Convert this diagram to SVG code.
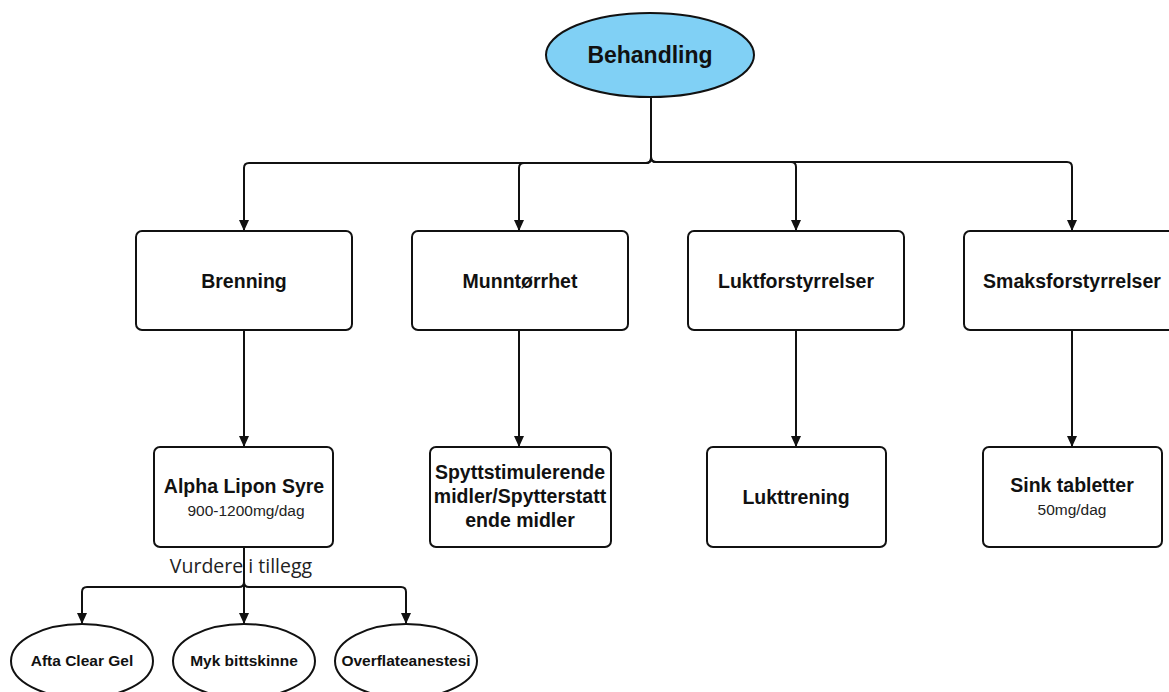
<svg xmlns="http://www.w3.org/2000/svg" width="1169" height="692" viewBox="0 0 1169 692">
<style>
.box{fill:#fff;stroke:#111;stroke-width:2}
.ell{fill:#fff;stroke:#111;stroke-width:2}
.conn{fill:none;stroke:#111;stroke-width:2}
.t{font-family:"Liberation Sans",Arial,Helvetica,sans-serif;font-weight:bold;font-size:19.5px;fill:#111;text-anchor:middle}
.s{font-family:"Liberation Sans",Arial,Helvetica,sans-serif;font-size:15.5px;fill:#222;text-anchor:middle}
.e{font-family:"Liberation Sans",Arial,Helvetica,sans-serif;font-weight:bold;font-size:15.5px;fill:#111;text-anchor:middle}
.lbl{font-family:"Open Sans",sans-serif;font-size:19.5px;fill:#222;text-anchor:middle}
</style>
<defs>
<marker id="arr" markerUnits="userSpaceOnUse" markerWidth="12" markerHeight="12" viewBox="0 0 12 12" refX="11" refY="6" orient="auto">
<path d="M0,1 L11,6 L0,11 Z" fill="#111"/>
</marker>
</defs>
<rect width="1169" height="692" fill="#fff"/>
<g id="connectors">
<path class="conn" marker-end="url(#arr)" d="M651,97 V158 Q651,163 646,163 H249 Q244,163 244,168 V231"/>
<path class="conn" marker-end="url(#arr)" d="M651,97 V158 Q651,163 646,163 H524 Q519,163 519,168 V231"/>
<path class="conn" marker-end="url(#arr)" d="M651,97 V157 Q651,162 656,162 H791 Q796,162 796,167 V231"/>
<path class="conn" marker-end="url(#arr)" d="M651,97 V157 Q651,162 656,162 H1067 Q1072,162 1072,167 V231"/>
<path class="conn" marker-end="url(#arr)" d="M244,330 V447"/>
<path class="conn" marker-end="url(#arr)" d="M519,330 V447"/>
<path class="conn" marker-end="url(#arr)" d="M796,330 V447"/>
<path class="conn" marker-end="url(#arr)" d="M1072,330 V447"/>
<path class="conn" marker-end="url(#arr)" d="M244,547 V582 Q244,587 239,587 H87 Q82,587 82,592 V624"/>
<path class="conn" marker-end="url(#arr)" d="M244,547 V624"/>
<path class="conn" marker-end="url(#arr)" d="M244,547 V582 Q244,587 249,587 H401 Q406,587 406,592 V624"/>
<text class="lbl" x="241" y="573">Vurdere i tillegg</text>
</g>
<g id="behandling">
<ellipse cx="650" cy="55" rx="104" ry="42" fill="#80d0f5" stroke="#111" stroke-width="2"/>
<text class="t" x="650" y="63" style="font-size:23px">Behandling</text>
</g>
<g id="brenning">
<rect class="box" x="136" y="231" width="216" height="99" rx="6"/>
<text class="t" x="244" y="288">Brenning</text>
</g>
<g id="munntorrhet">
<rect class="box" x="412" y="231" width="216" height="99" rx="6"/>
<text class="t" x="520" y="288">Munntørrhet</text>
</g>
<g id="luktforstyrrelser">
<rect class="box" x="688" y="231" width="216" height="99" rx="6"/>
<text class="t" x="796" y="288">Luktforstyrrelser</text>
</g>
<g id="smaksforstyrrelser">
<rect class="box" x="964" y="231" width="216" height="99" rx="6"/>
<text class="t" x="1072" y="288">Smaksforstyrrelser</text>
</g>
<g id="alpha">
<rect class="box" x="154" y="447" width="179" height="100" rx="6"/>
<text class="t" x="244" y="493">Alpha Lipon Syre</text>
<text class="s" x="246" y="516">900-1200mg/dag</text>
</g>
<g id="spytt">
<rect class="box" x="430" y="447" width="181" height="100" rx="6"/>
<text class="t" x="520" y="479">Spyttstimulerende</text>
<text class="t" x="520" y="503">midler/Spytterstatt</text>
<text class="t" x="520" y="527">ende midler</text>
</g>
<g id="lukttrening">
<rect class="box" x="707" y="447" width="179" height="100" rx="6"/>
<text class="t" x="796" y="504">Lukttrening</text>
</g>
<g id="sink">
<rect class="box" x="983" y="447" width="179" height="100" rx="6"/>
<text class="t" x="1072" y="492">Sink tabletter</text>
<text class="s" x="1072" y="515">50mg/dag</text>
</g>
<g id="afta">
<ellipse class="ell" cx="82" cy="661" rx="71" ry="37"/>
<text class="e" x="82" y="666">Afta Clear Gel</text>
</g>
<g id="myk">
<ellipse class="ell" cx="244" cy="661" rx="71" ry="37"/>
<text class="e" x="244" y="666">Myk bittskinne</text>
</g>
<g id="overflate">
<ellipse class="ell" cx="406" cy="661" rx="71" ry="37"/>
<text class="e" x="406" y="666">Overflateanestesi</text>
</g>
</svg>
